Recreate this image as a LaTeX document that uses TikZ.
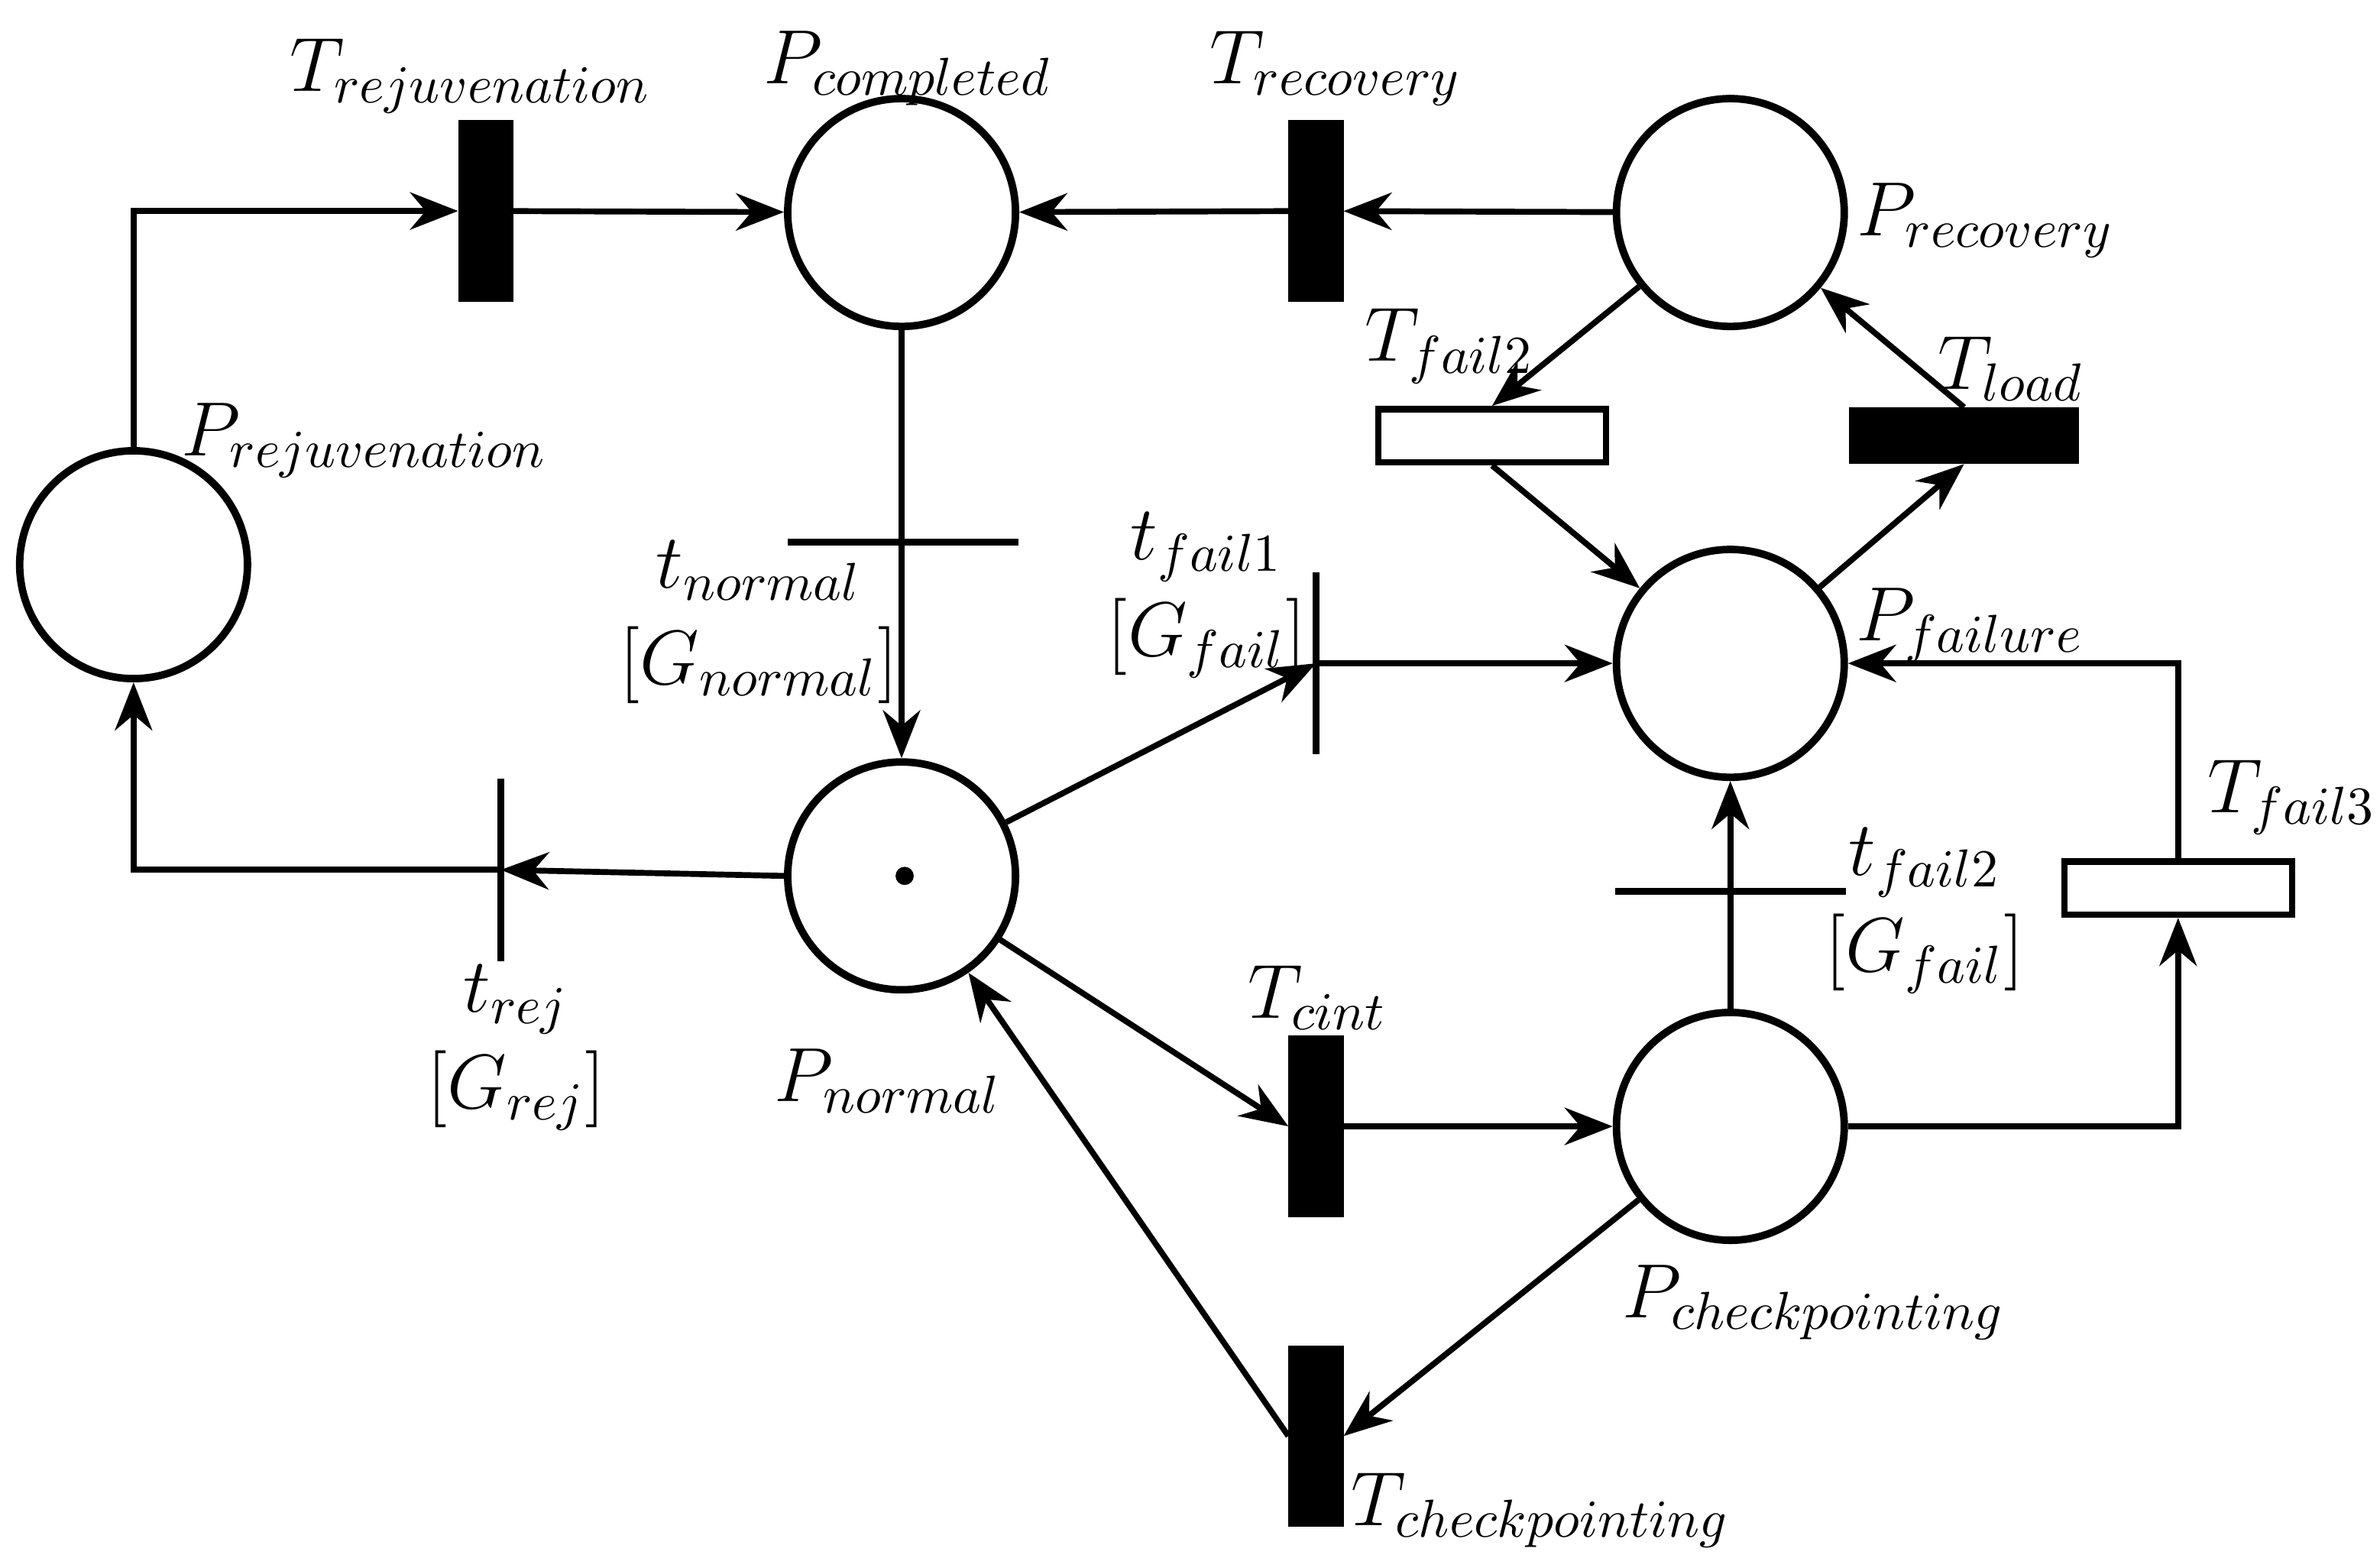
\documentclass[tikz,border=0pt]{standalone}
\usetikzlibrary{arrows.meta}
\begin{document}
\begin{tikzpicture}[x=0.01cm,y=-0.01cm,
  place/.style={circle,draw,line width=1.4pt,minimum size=1.5cm,inner sep=0pt},
  timed/.style={rectangle,fill=black,draw,minimum width=0.35cm,minimum height=1.18cm,inner sep=0pt},
  timedh/.style={rectangle,fill=black,draw,minimum width=1.5cm,minimum height=0.36cm,inner sep=0pt},
  white/.style={rectangle,fill=white,draw,line width=1.2pt,minimum width=1.5cm,minimum height=0.35cm,inner sep=0pt},
  hbar/.style={rectangle,fill=black,minimum width=1.52cm,minimum height=0.045cm,inner sep=0pt},
  vbar/.style={rectangle,fill=black,minimum width=0.045cm,minimum height=1.2cm,inner sep=0pt},
  arc/.style={line width=1.1pt,-{Stealth[length=9pt,width=7pt]}},
  lab/.style={font=\Large,align=center,inner sep=0pt}]
\useasboundingbox (0,0) rectangle (1568,1024);
% places
\node[place] (prej) at (88,372) {};
\node[place] (pcom) at (594,140) {};
\node[place] (prec) at (1140,140) {};
\node[place] (pfail) at (1140,437) {};
\node[place] (pnorm) at (594,577) {};
\node[place] (pchk) at (1140,742) {};
\fill (596,577) circle (6);
% transitions
\node[timed] (trej) at (320,139) {};
\node[timed] (trec) at (867,139) {};
\node[timed] (tcint) at (867,742) {};
\node[timed] (tchk) at (867,946) {};
\node[white] (tf2) at (983,287) {};
\node[timedh] (tload) at (1294,287) {};
\node[white] (tf3) at (1435,585) {};
\node[hbar] (tn) at (595,357) {};
\node[vbar] (tf1) at (867,437) {};
\node[vbar] (tr) at (330,573) {};
\node[hbar] (tf2i) at (1140,587) {};
% arcs
\draw[arc] (prej.north) |- (trej.west);
\draw[arc] (trej) -- (pcom);
\draw[arc] (prec) -- (trec);
\draw[arc] (trec) -- (pcom);
\draw[arc] (pcom) -- (pnorm);
\draw[arc] (pnorm) -- (tf1.center);
\draw[arc] (tf1.center) -- (pfail.west);
\draw[arc] (pnorm.west) -- (tr.center);
\draw[arc] (tr.center) -| (prej.south);
\draw[arc] (pnorm) -- (tcint.west);
\draw[arc] (tcint) -- (pchk);
\draw[arc] (pchk) -- (tchk.east);
\draw[arc] (tchk.west) -- (pnorm);
\draw[arc] (pchk) -- (pfail);
\draw[arc] (pchk.east) -| (tf3.south);
\draw[arc] (tf3.north) |- (pfail.east);
\draw[arc] (prec) -- (tf2.north);
\draw[arc] (tf2.south) -- (pfail);
\draw[arc] (pfail) -- (tload.south);
\draw[arc] (tload.north) -- (prec);
% labels
\node[lab] at (310,50) {$T_{rejuvenation}$};
\node[lab] at (598,45) {$P_{completed}$};
\node[lab] at (880,45) {$T_{recovery}$};
\node[lab] at (1308,145) {$P_{recovery}$};
\node[lab] at (955,228) {$T_{fail2}$};
\node[lab] at (1325,243) {$T_{load}$};
\node[lab] at (240,290) {$P_{rejuvenation}$};
\node[lab] at (500,410) {$t_{normal}$\\$[G_{normal}]$};
\node[lab] at (795,392) {$t_{fail1}$\\$[G_{fail}]$};
\node[lab] at (1298,412) {$P_{failure}$};
\node[lab] at (1510,525) {$T_{fail3}$};
\node[lab] at (1268,600) {$t_{fail2}$\\$[G_{fail}]$};
\node[lab] at (868,657) {$T_{cint}$};
\node[lab] at (340,690) {$t_{rej}$\\$[G_{rej}]$};
\node[lab] at (585,712) {$P_{normal}$};
\node[lab] at (1195,858) {$P_{checkpointing}$};
\node[lab] at (1015,995) {$T_{checkpointing}$};
\end{tikzpicture}
\end{document}
